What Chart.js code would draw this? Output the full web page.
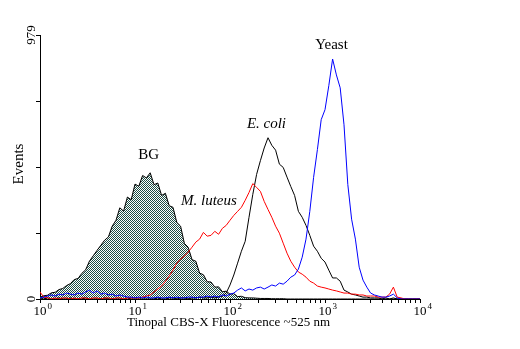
<!DOCTYPE html>
<html>
<head>
<meta charset="utf-8">
<title>Tinopal CBS-X fluorescence histograms</title>
<script src="https://cdn.jsdelivr.net/npm/chart.js@4/dist/chart.umd.min.js"></script>
<style>
  html, body { margin: 0; padding: 0; background: #ffffff; }
  canvas { display: block; }
</style>
</head>
<body>
<canvas id="hist" width="520" height="349"></canvas>
<script>
// Histogram channels: 101 log-spaced channels from 10^0 to 10^4 (0.04 decade each)
const channels = Array.from({ length: 101 }, (_, i) => Math.pow(10, i * 0.04));

// Events per channel for each sample
const bgCounts = [
  7, 12, 14, 23, 25, 35, 39, 50, 57, 72,
  76, 95, 108, 140, 160, 180, 199, 218, 230, 270,
  292, 338, 326, 378, 368, 426, 418, 458, 449, 468,
  424, 430, 384, 392, 346, 340, 284, 270, 206, 192,
  146, 140, 96, 90, 64, 63, 44, 45, 27, 29,
  18, 20, 9, 10, 5, 4, 4, 3, 2, 2,
  2, 1, 1, 1, 1, 0, 0, 0, 0, 0,
  0, 0, 0, 0, 0, 0, 0, 0, 0, 0,
  0, 0, 0, 0, 0, 0, 0, 0, 0, 0,
  0, 0, 0, 0, 0, 0, 0, 0, 0, 0,
  0
];
const ecoliCounts = [
  4, 0, 4, 0, 0, 4, 0, 0, 4, 0,
  0, 0, 4, 0, 0, 0, 0, 4, 0, 0,
  0, 0, 0, 4, 0, 0, 0, 0, 0, 0,
  0, 4, 0, 0, 4, 4, 0, 4, 4, 0,
  4, 4, 7, 4, 4, 7, 4, 7, 11, 22,
  52, 89, 133, 177, 214, 303, 388, 462, 513, 560,
  598, 570, 552, 500, 488, 452, 417, 384, 325, 303,
  273, 236, 196, 177, 151, 137, 107, 78, 78, 66,
  33, 26, 18, 15, 11, 7, 7, 4, 4, 4,
  0, 4, 0, 4, 0, 0, 0, 0, 0, 0,
  0
];
const luteusCounts = [
  26, 7, 4, 0, 4, 0, 4, 4, 0, 4,
  0, 4, 4, 0, 4, 4, 0, 4, 4, 0,
  4, 4, 0, 4, 4, 4, 4, 7, 11, 15,
  26, 37, 48, 66, 85, 107, 133, 148, 159, 174,
  192, 211, 222, 247, 233, 236, 251, 240, 262, 273,
  292, 310, 325, 340, 366, 395, 428, 414, 399, 362,
  332, 303, 270, 244, 207, 170, 140, 118, 100, 92,
  81, 66, 59, 48, 44, 41, 37, 33, 30, 26,
  22, 22, 18, 18, 15, 15, 11, 11, 11, 7,
  7, 7, 18, 44, 7, 4, 0, 0, 0, 0,
  0
];
const yeastCounts = [
  4, 7, 11, 15, 11, 18, 15, 22, 18, 15,
  22, 18, 26, 33, 22, 30, 18, 22, 15, 18,
  11, 15, 11, 7, 7, 4, 7, 4, 7, 4,
  4, 7, 4, 4, 7, 4, 7, 4, 4, 7,
  7, 4, 7, 7, 11, 7, 11, 7, 15, 11,
  18, 22, 33, 41, 30, 37, 33, 41, 44, 37,
  44, 52, 48, 59, 55, 66, 81, 89, 111, 155,
  222, 325, 451, 554, 665, 702, 791, 890, 831, 783,
  646, 425, 296, 222, 118, 70, 44, 22, 15, 11,
  7, 7, 11, 18, 4, 0, 0, 0, 0, 0,
  0
];

// Axis ticks
const decadeTicks = [1, 10, 100, 1000, 10000];
const minorXTicks = [];
decadeTicks.slice(0, 4).forEach(d => { for (let k = 2; k <= 9; k++) minorXTicks.push(d * k); });
const yMax = 979;
const yTicks = [0, yMax / 4, yMax / 2, (3 * yMax) / 4, yMax];
const yTickLabels = { 0: '0', 979: '979' };

// Sample labels, placed in data units
const sampleLabels = [
  { text: 'BG', x: 13.9, y: 519, italic: false },
  { text: 'M. luteus', x: 60, y: 349, italic: true },
  { text: 'E. coli', x: 242, y: 634, italic: true },
  { text: 'Yeast', x: 1170, y: 927, italic: false }
];

const SERIF = '"Liberation Serif", "Times New Roman", Times, serif';

function toPoints(values) {
  return values.map((v, i) => ({ x: channels[i], y: v }));
}

// Fine teal/white checkerboard used to shade the background histogram
function checkerPattern(ctx) {
  const tile = document.createElement('canvas');
  tile.width = 2; tile.height = 2;
  const t = tile.getContext('2d');
  t.fillStyle = '#ffffff';
  t.fillRect(0, 0, 2, 2);
  t.fillStyle = '#1d4d44';
  t.fillRect(0, 0, 1, 1);
  t.fillRect(1, 1, 1, 1);
  return ctx.createPattern(tile, 'repeat');
}

const textPlugin = {
  id: 'histText',
  afterDraw(chart) {
    const ctx = chart.ctx;
    const xs = chart.scales.x;
    const ys = chart.scales.y;
    ctx.save();
    ctx.fillStyle = '#000000';

    // x tick labels: 10 with a superscript exponent
    decadeTicks.forEach((v, p) => {
      const px = xs.getPixelForValue(v);
      ctx.font = '13px ' + SERIF;
      ctx.textAlign = 'center';
      ctx.textBaseline = 'alphabetic';
      const w = ctx.measureText('10').width;
      ctx.fillText('10', px, 315);
      ctx.font = '9px ' + SERIF;
      ctx.textAlign = 'left';
      ctx.fillText(String(p), px + w / 2 + 1, 309);
    });

    // y tick labels, rotated
    ctx.font = '13px ' + SERIF;
    ctx.textAlign = 'center';
    ctx.textBaseline = 'alphabetic';
    yTicks.forEach(v => {
      const lbl = yTickLabels[v];
      if (lbl === undefined) return;
      const py = ys.getPixelForValue(v);
      ctx.save();
      ctx.translate(35, py);
      ctx.rotate(-Math.PI / 2);
      ctx.fillText(lbl, 0, 0);
      ctx.restore();
    });

    // axis titles
    ctx.font = '13px ' + SERIF;
    ctx.textAlign = 'center';
    ctx.fillText('Tinopal CBS-X Fluorescence ~525 nm', 228.5, 326);
    ctx.save();
    ctx.translate(23, 164);
    ctx.rotate(-Math.PI / 2);
    ctx.font = '15px ' + SERIF;
    ctx.fillText('Events', 0, 0);
    ctx.restore();

    // sample labels
    sampleLabels.forEach(s => {
      ctx.font = (s.italic ? 'italic ' : '') + '15px ' + SERIF;
      ctx.textAlign = 'center';
      ctx.fillText(s.text, xs.getPixelForValue(s.x), ys.getPixelForValue(s.y));
    });
    ctx.restore();
  }
};

const canvas = document.getElementById('hist');
const ctx2d = canvas.getContext('2d');

new Chart(ctx2d, {
  type: 'line',
  data: {
    datasets: [
      { label: 'Yeast', data: toPoints(yeastCounts), borderColor: '#0000ff', fill: false },
      { label: 'M. luteus', data: toPoints(luteusCounts), borderColor: '#ff0000', fill: false },
      { label: 'E. coli', data: toPoints(ecoliCounts), borderColor: '#000000', fill: false },
      { label: 'BG', data: toPoints(bgCounts), borderColor: '#000000',
        backgroundColor: checkerPattern(ctx2d), fill: 'origin' }
    ]
  },
  options: {
    responsive: false,
    animation: false,
    devicePixelRatio: 1,
    layout: { padding: { left: 0, top: 35, right: 100, bottom: 0 } },
    elements: {
      point: { radius: 0, hoverRadius: 0 },
      line: { tension: 0, borderWidth: 1 }
    },
    plugins: {
      legend: { display: false },
      tooltip: { enabled: false }
    },
    events: [],
    scales: {
      x: {
        type: 'logarithmic',
        min: 1,
        max: 10000,
        afterBuildTicks(scale) {
          scale.ticks = decadeTicks.concat(minorXTicks).sort((a, b) => a - b).map(v => ({ value: v }));
        },
        afterFit(scale) { scale.height = 50; },
        ticks: { display: false },
        grid: { drawOnChartArea: false, drawTicks: true, tickLength: 4, color: '#000000', tickColor: '#000000', lineWidth: 1 },
        border: { display: true, color: '#000000', width: 1 }
      },
      y: {
        type: 'linear',
        min: 0,
        max: yMax,
        afterBuildTicks(scale) {
          scale.ticks = yTicks.map(v => ({ value: v }));
        },
        afterFit(scale) { scale.width = 40; },
        ticks: { display: false },
        grid: { drawOnChartArea: false, drawTicks: true, tickLength: 4, color: '#000000', tickColor: '#000000', lineWidth: 1 },
        border: { display: true, color: '#000000', width: 1 }
      }
    }
  },
  plugins: [textPlugin]
});
</script>
</body>
</html>
